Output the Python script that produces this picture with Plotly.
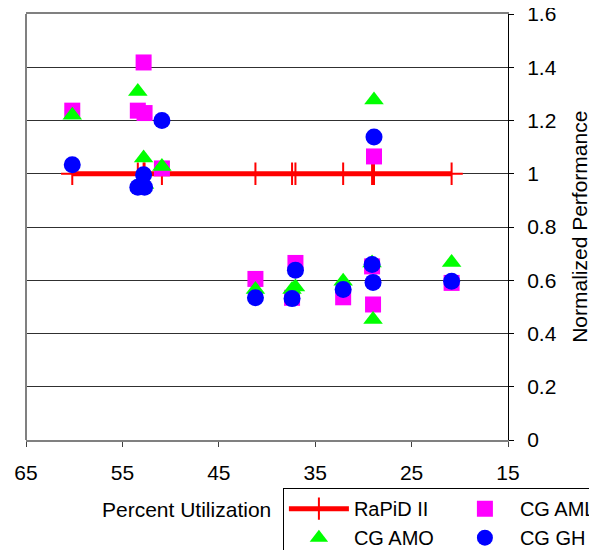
import plotly.graph_objects as go

# Percent utilization of each configuration (x)
utilization = [60.2, 53.4, 52.8, 52.7, 50.9, 41.2, 37.4, 37.05, 32.1, 29.1, 29.0, 28.9, 20.85]

# Normalized performance per architecture (y)
rapid_ii = [1, 1, 1, 1, 1, 1, 1, 1, 1, 1, 1, 1, 1]
cg_aml = [1.237, 1.237, 1.418, 1.228, 1.02, 0.605, 0.534, 0.665, 0.536, 0.652, 0.509, 1.065, 0.59]
cg_amo = [1.22, 1.309, 1.059, 0.96, 1.027, 0.565, 0.565, 0.575, 0.596, 0.665, 0.453, 1.277, 0.667]
cg_gh = [1.034, 0.949, 0.996, 0.949, 1.2, 0.534, 0.531, 0.638, 0.565, 0.659, 0.592, 1.138, 0.596]

x_ticks = [65, 55, 45, 35, 25, 15]
y_ticks = [0, 0.2, 0.4, 0.6, 0.8, 1, 1.2, 1.4, 1.6]

FONT = "Liberation Sans, Arial, sans-serif"
FS = 21

fig = go.Figure()
fig.add_trace(go.Scatter(
    x=utilization, y=rapid_ii, name="RaPiD II", mode="lines+markers",
    line=dict(color="#FF0000", width=5),
    marker=dict(symbol="cross-thin", size=16, color="#FF0000",
                line=dict(color="#FF0000", width=2)),
))
fig.add_trace(go.Scatter(
    x=utilization, y=cg_aml, name="CG AML", mode="markers",
    marker=dict(symbol="square", size=16, color="#FF00FF", line=dict(width=0)),
))
fig.add_trace(go.Scatter(
    x=utilization, y=cg_amo, name="CG AMO", mode="markers",
    marker=dict(symbol="triangle-up", size=17, color="#00FF00", line=dict(width=0)),
))
fig.add_trace(go.Scatter(
    x=utilization, y=cg_gh, name="CG GH", mode="markers",
    marker=dict(symbol="circle", size=17, color="#0000FF", line=dict(width=0)),
))

# the page body adds an 8px offset, so the figure is sized to fill the rest
fig.update_layout(
    width=589, height=542,
    margin=dict(l=18, r=89, t=6, b=110, autoexpand=False),
    paper_bgcolor="white", plot_bgcolor="white",
    font=dict(family=FONT, size=FS, color="black"),
    showlegend=True,
    legend=dict(
        orientation="h", x=0.533, xanchor="left", y=-0.113, yanchor="top",
        bgcolor="white", bordercolor="black", borderwidth=1,
        itemwidth=60, entrywidth=91, entrywidthmode="pixels",
        font=dict(family=FONT, size=20, color="black"),
        traceorder="normal",
    ),
    xaxis=dict(
        range=[65, 15], tickmode="array", tickvals=x_ticks,
        ticktext=[str(v) for v in x_ticks],
        ticks="outside", ticklen=5, tickcolor="#404040", tickwidth=1,
        showline=True, mirror=True, linecolor="#808080", linewidth=2,
        showgrid=False, zeroline=False, ticklabelstandoff=8,
        ticklabeloverflow="allow",
        tickfont=dict(family=FONT, size=FS, color="black"),
    ),
    yaxis=dict(
        range=[0, 1.6], side="right", tickmode="array", tickvals=y_ticks,
        ticktext=["0", "0.2", "0.4", "0.6", "0.8", "1", "1.2", "1.4", "1.6"],
        ticks="outside", ticklen=5, tickcolor="black", tickwidth=1,
        showline=True, linecolor="black", linewidth=1,
        showgrid=True, gridcolor="#303030", gridwidth=1,
        zeroline=False, ticklabelstandoff=9,
        ticklabeloverflow="allow",
        tickfont=dict(family=FONT, size=FS, color="black"),
    ),
    shapes=[
        dict(type="line", xref="paper", yref="paper", x0=0, x1=0, y0=0, y1=1,
             line=dict(color="#808080", width=2)),
    ],
    annotations=[
        dict(text="Percent Utilization", xref="paper", yref="paper",
             x=0.332, y=-0.164, xanchor="center", yanchor="middle",
             showarrow=False, font=dict(family=FONT, size=FS, color="black")),
        dict(text="Normalized Performance", xref="paper", yref="paper",
             x=1.147, y=0.5, xanchor="center", yanchor="middle", textangle=-90,
             showarrow=False, font=dict(family=FONT, size=FS, color="black")),
    ],
)

fig.write_html("out.html")
